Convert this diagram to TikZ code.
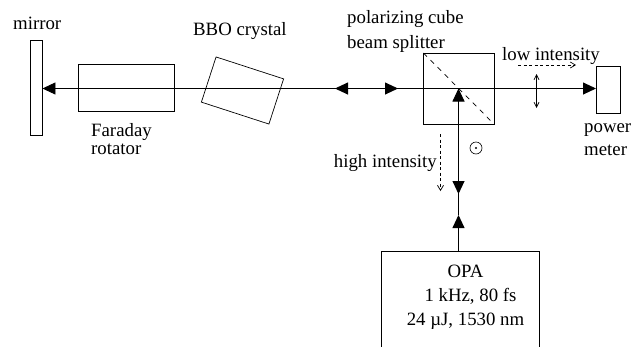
\documentclass[tikz,border=0pt]{standalone}
\usepackage{fontspec}
\setmainfont{Liberation Serif}
\usetikzlibrary{arrows.meta, positioning, calc}
\tikzset{
    element/.style={rectangle, draw=black, line width=0.7pt, inner sep=0pt, outer sep=0pt},
    label/.style={font=\fontsize{18.8}{24}\selectfont, align=left, inner sep=0pt},
    beam/.style={line width=0.9pt, -{Triangle[length=13pt,width=12pt]}},
    polarrow/.style={line width=0.7pt, {Straight Barb[length=5pt,width=5pt]}-{Straight Barb[length=5pt,width=5pt]}},
    dashedarrow/.style={line width=0.7pt, dashed, dash pattern=on 3pt off 2.5pt, -{Straight Barb[length=5pt,width=6pt]}}
}
\begin{document}
\begin{tikzpicture}[x=1pt,y=-1pt]
    \useasboundingbox (0,0) rectangle (641,346);

    % Optical elements
    \node[element, minimum width=12.5pt, minimum height=95pt] (mirror) at (36.2,87.5) {};
    \node[element, minimum width=96pt, minimum height=47pt] (faraday) at (126,87.5) {};
    \node[element, minimum width=71pt, minimum height=47.5pt, rotate=-18] (crystal) at (242.5,90.5) {};
    \node[element, minimum width=70.5pt, minimum height=71pt] (cube) at (458.7,88.5) {};
    \node[element, minimum width=24pt, minimum height=47pt] (meter) at (608,89.5) {};
    \node[element, minimum width=157.5pt, minimum height=120pt] (opa) at (460.2,311.5) {};

    % Labels
    \node[label, anchor=base west] (mirrorlabel) at (13,29) {mirror};
    \node[label, anchor=base west] (crystallabel) at (193,35) {BBO crystal};
    \node[label, anchor=base west] (faradaylabel) at (91,136) {Faraday};
    \node[label, anchor=base west] (rotatorlabel) at (91,154) {rotator};
    \node[label, anchor=base west] (polarlabel) at (347,23.5) {polarizing cube};
    \node[label, anchor=base west] (splitterlabel) at (347,48) {beam splitter};
    \node[label, anchor=base west] (lowlabel) at (502,60) {low intensity};
    \node[label, anchor=base east] (highlabel) at (437,167) {high intensity};
    \node[label, anchor=base west] (powerlabel) at (584,132) {power};
    \node[label, anchor=base west] (meterlabel) at (584,155) {meter};
    \node[label, align=center] (opalabel) at (465.5,297) {OPA\\\hspace*{10pt}1 kHz, 80 fs\\24 µJ, 1530 nm};

    % Beam paths
    \coordinate (split) at (458.5,88.5);
    \coordinate (midleft) at (335,88.5);
    \coordinate (midright) at (398,88.5);
    \coordinate (downtip) at (458.5,194);
    \coordinate (uptip) at (458.5,215);
    \draw[beam] (split) -- (mirror.east |- split);
    \draw[beam] (midright) -- (midleft);
    \draw[beam] (midleft) -- (midright);
    \draw[beam] (split) -- (meter.west |- split);
    \draw[beam] (opa.north -| split) -- (uptip);
    \draw[beam] (uptip) -- (split);
    \draw[beam] (split) -- (downtip);

    % Splitter surface
    \draw[dashed, line width=0.7pt, dash pattern=on 5pt off 5pt] (cube.north west) -- (cube.south east);

    % Polarization and intensity marks
    \coordinate (lowstart) at (518,65);
    \coordinate (lowend) at (576,65);
    \coordinate (highstart) at (440.5,134);
    \coordinate (highend) at (440.5,191);
    \coordinate (poltop) at (536.5,74);
    \coordinate (polbottom) at (536.5,108);
    \draw[dashedarrow] (lowstart) -- (lowend);
    \draw[dashedarrow] (highstart) -- (highend);
    \draw[polarrow] (poltop) -- (polbottom);
    \node[circle, draw=black, line width=0.6pt, minimum size=12pt, inner sep=0pt] (polout) at (476,148) {};
    \fill (polout.center) circle (1.1pt);
\end{tikzpicture}
\end{document}
